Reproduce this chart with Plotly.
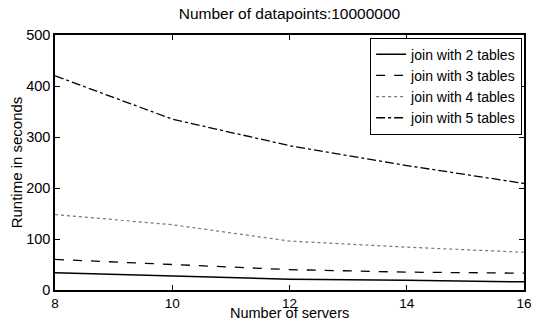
import plotly.graph_objects as go

servers = [8, 10, 12, 14, 16]
join2 = [34, 27, 21, 19, 16]
join3 = [60, 50, 40, 35, 33]
join4 = [148, 128, 96, 84, 74]
join5 = [420, 335, 283, 244, 209]

names = ["join with 2 tables", "join with 3 tables", "join with 4 tables", "join with 5 tables"]
series = [join2, join3, join4, join5]
dashes = ["solid", "dash", "dot", "dashdot"]
colors = ["black", "black", "#777777", "black"]
widths = [1.5, 1.3, 1.2, 1.3]

fig = go.Figure()
for n, s, d, c, w in zip(names, series, dashes, colors, widths):
    fig.add_trace(go.Scatter(x=servers, y=s, mode="lines", name=n,
                             line=dict(color=c, dash=d, width=w)))

font = "Liberation Sans, Arial, Helvetica, sans-serif"
fig.update_layout(
    width=534, height=324,
    margin=dict(l=55, r=10, t=35, b=34, autoexpand=False),
    paper_bgcolor="white", plot_bgcolor="white",
    font=dict(family=font, size=14, color="black"),
    title=dict(text="Number of datapoints:10000000", x=0.542, xanchor="center",
               y=0.957, yanchor="middle", font=dict(size=15.5)),
    showlegend=True,
    legend=dict(x=0.996, y=0.99, xanchor="right", yanchor="top",
                bordercolor="black", borderwidth=1, bgcolor="white",
                font=dict(size=14), tracegroupgap=0,
                itemwidth=30),
    annotations=[dict(text="Number of servers", xref="paper", yref="paper",
                      x=0.5, y=-0.131, xanchor="center", yanchor="bottom",
                      showarrow=False, font=dict(size=14.5))],
)
fig.update_xaxes(range=[8, 16], tickvals=[8, 10, 12, 14, 16],
                 ticks="inside", ticklen=5, tickwidth=1, tickcolor="black",
                 showline=True, linecolor="black", linewidth=1.5, mirror="ticks",
                 showgrid=False, zeroline=False,
                 tickfont=dict(size=13.5))
fig.update_yaxes(range=[0, 500], tickvals=[0, 100, 200, 300, 400, 500],
                 ticks="inside", ticklen=5, tickwidth=1, tickcolor="black",
                 showline=True, linecolor="black", linewidth=1.5, mirror="ticks",
                 showgrid=False, zeroline=False,
                 title=dict(text="Runtime in seconds", standoff=0, font=dict(size=15)),
                 tickfont=dict(size=14.5))

fig.write_html("out.html", config={"displayModeBar": False},
               post_script="document.body.style.margin='0';document.body.style.padding='0';")
